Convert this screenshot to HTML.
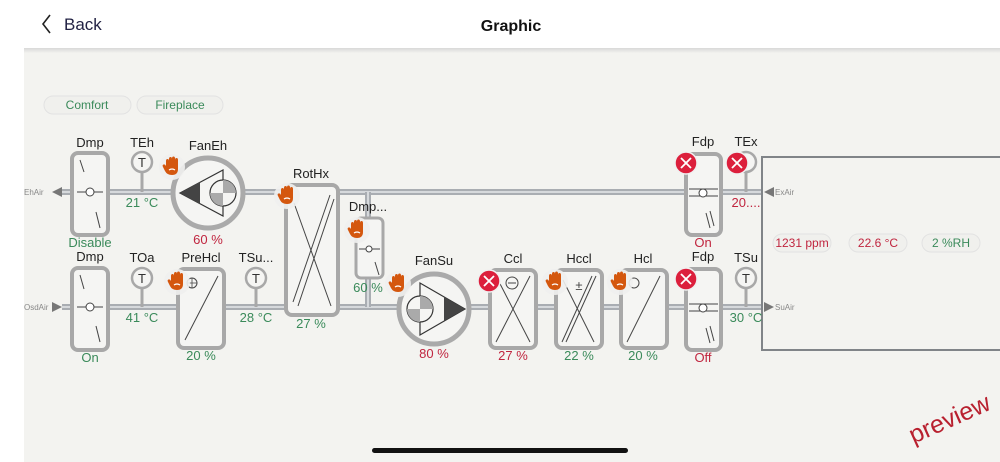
<!DOCTYPE html>
<html><head><meta charset="utf-8"><style>
html,body{margin:0;padding:0;width:1000px;height:462px;overflow:hidden;background:#fff}
svg{display:block}
text{font-family:"Liberation Sans",sans-serif}
</style></head><body>
<svg width="1000" height="462" viewBox="0 0 1000 462">
<defs>
<linearGradient id="sh" x1="0" y1="0" x2="0" y2="1"><stop offset="0" stop-color="#d8d8d8"/><stop offset="1" stop-color="#f2f2ef"/></linearGradient>
<g id="hand">
<circle cx="0" cy="0" r="13" fill="#f0f0ee" opacity="0.9"/>
<path d="M-6,-1 L-6,-6 Q-6,-8 -4.5,-8 Q-3,-8 -3,-6 L-3,-8 Q-3,-10 -1.5,-10 Q0,-10 0,-8 L0,-8.5 Q0,-10.5 1.5,-10.5 Q3,-10.5 3,-8.5 L3,-7 Q3,-9 4.5,-9 Q6,-9 6,-7 L6,2 Q6,8 0,8 Q-5,8 -7,4 L-9,0 Q-10,-2 -8.5,-2.5 Q-7,-3 -6,-1 Z" fill="#d4570e"/>
<path d="M-3,3 Q0,1 3,3" stroke="#fff" stroke-width="1.3" fill="none"/>
</g>
<g id="err"><circle r="11" fill="#dc1f3c" stroke="#f0f0f0" stroke-width="1.5"/><path d="M-5,-5 L5,5 M5,-5 L-5,5" stroke="#fff" stroke-width="1.8"/></g>
</defs>
<rect x="0" y="0" width="1000" height="48" fill="#fff"/>
<path d="M50,15 L43,24 L50,33" stroke="#222" stroke-width="1.6" fill="none"/>
<text x="64" y="30" font-size="17" fill="#222244">Back</text>
<text x="511" y="31" font-size="16" font-weight="bold" fill="#111" text-anchor="middle">Graphic</text>
<rect x="24" y="48" width="976" height="414" fill="#f3f3f0"/>
<rect x="24" y="48" width="976" height="5" fill="url(#sh)"/>
<rect x="44" y="96" width="87" height="18" rx="9" fill="#f0f0ed" stroke="#e2e2e2"/>
<text x="87" y="109" font-size="12" fill="#3a8a5a" text-anchor="middle">Comfort</text>
<rect x="137" y="96" width="86" height="18" rx="9" fill="#f0f0ed" stroke="#e2e2e2"/>
<text x="180" y="109" font-size="12" fill="#3a8a5a" text-anchor="middle">Fireplace</text>
<g stroke-linecap="butt">
<line x1="62" y1="192" x2="762" y2="192" stroke="#a9adb2" stroke-width="6"/>
<line x1="62" y1="192" x2="762" y2="192" stroke="#d6d9dc" stroke-width="2"/>
<line x1="62" y1="307" x2="762" y2="307" stroke="#a9adb2" stroke-width="6"/>
<line x1="62" y1="307" x2="762" y2="307" stroke="#d6d9dc" stroke-width="2"/>
<line x1="368" y1="192" x2="368" y2="307" stroke="#a9adb2" stroke-width="6"/>
<line x1="368" y1="192" x2="368" y2="307" stroke="#d6d9dc" stroke-width="2"/>
</g>
<text x="24" y="195" font-size="8" fill="#888">EhAir</text>
<polygon points="52,192 62,187 62,197" fill="#777"/>
<text x="24" y="310" font-size="8" fill="#888">OsdAir</text>
<polygon points="62,307 52,302 52,312" fill="#777"/>
<rect x="762" y="157" width="250" height="193" fill="#f3f3f0" stroke="#808488" stroke-width="2"/>
<polygon points="764,192 774,187 774,197" fill="#777"/>
<text x="775" y="195" font-size="8" fill="#888">ExAir</text>
<polygon points="774,307 764,302 764,312" fill="#777"/>
<text x="775" y="310" font-size="8" fill="#888">SuAir</text>
<rect x="773" y="234" width="58" height="18" rx="9" fill="#f0f0ed" stroke="#e2e2e2"/>
<text x="802" y="247" font-size="12" fill="#c0253f" text-anchor="middle">1231 ppm</text>
<rect x="849" y="234" width="58" height="18" rx="9" fill="#f0f0ed" stroke="#e2e2e2"/>
<text x="878" y="247" font-size="12" fill="#c0253f" text-anchor="middle">22.6 °C</text>
<rect x="922" y="234" width="58" height="18" rx="9" fill="#f0f0ed" stroke="#e2e2e2"/>
<text x="951" y="247" font-size="12" fill="#3a8a5a" text-anchor="middle">2 %RH</text>

<g font-size="13" text-anchor="middle">
<rect x="72" y="153" width="36" height="82" rx="6" fill="#f5f5f3" stroke="#a8a8a8" stroke-width="4"/>
<line x1="77" y1="192" x2="103" y2="192" stroke="#444"/><circle cx="90" cy="192" r="4" fill="#fff" stroke="#444"/>
<line x1="80" y1="160" x2="84" y2="172" stroke="#444"/><line x1="96" y1="212" x2="100" y2="228" stroke="#444"/>
<text x="90" y="147" fill="#222">Dmp</text><text x="90" y="247" fill="#3a8a5a">Disable</text>
<rect x="72" y="268" width="36" height="82" rx="6" fill="#f5f5f3" stroke="#a8a8a8" stroke-width="4"/>
<line x1="77" y1="307" x2="103" y2="307" stroke="#444"/><circle cx="90" cy="307" r="4" fill="#fff" stroke="#444"/>
<line x1="80" y1="275" x2="84" y2="289" stroke="#444"/><line x1="96" y1="326" x2="100" y2="342" stroke="#444"/>
<text x="90" y="261" fill="#222">Dmp</text><text x="90" y="362" fill="#3a8a5a">On</text>
<line x1="142" y1="172" x2="142" y2="192" stroke="#a8a8a8" stroke-width="3"/>
<circle cx="142" cy="162" r="10" fill="#f5f5f3" stroke="#a8a8a8" stroke-width="2.5"/>
<text x="142" y="167" font-size="13" fill="#333">T</text>
<text x="142" y="147" fill="#222">TEh</text><text x="142" y="207" fill="#3a8a5a">21 °C</text>
<circle cx="208" cy="193" r="35" fill="#f5f5f3" stroke="#aaa" stroke-width="5"/>
<polygon points="180,193 223,170 223,216" fill="#f5f5f3" stroke="#333" stroke-width="1.2"/>
<polygon points="180,193 200,182 200,204" fill="#444"/>
<circle cx="223" cy="193" r="13" fill="#f5f5f3" stroke="#333" stroke-width="1.2"/>
<path d="M223,193 L236,193 A13,13 0 0,0 223,180 Z M223,193 L210,193 A13,13 0 0,0 223,206 Z" fill="#aaa"/>
<text x="208" y="150" fill="#222">FanEh</text><text x="208" y="244" fill="#c0253f">60 %</text>
<use href="#hand" x="172" y="167"/>
<rect x="286" y="185" width="52" height="130" rx="6" fill="#f5f5f3" stroke="#a8a8a8" stroke-width="4"/>
<line x1="293" y1="302" x2="330" y2="195" stroke="#444"/><line x1="298" y1="306" x2="334" y2="199" stroke="#444"/><line x1="294" y1="203" x2="331" y2="306" stroke="#444"/>
<text x="311" y="178" fill="#222">RotHx</text><text x="311" y="328" fill="#3a8a5a">27 %</text>
<use href="#hand" x="287" y="196"/>
<rect x="356" y="218" width="27" height="60" rx="5" fill="#f5f5f3" stroke="#a8a8a8" stroke-width="3"/>
<line x1="359" y1="249" x2="380" y2="249" stroke="#444"/><circle cx="369" cy="249" r="3" fill="#fff" stroke="#444"/>
<line x1="375" y1="262" x2="379" y2="275" stroke="#444"/>
<text x="368" y="211" fill="#222">Dmp...</text><text x="368" y="292" fill="#3a8a5a">60 %</text>
<use href="#hand" x="357" y="230"/>
<line x1="142" y1="288" x2="142" y2="307" stroke="#a8a8a8" stroke-width="3"/>
<circle cx="142" cy="278" r="10" fill="#f5f5f3" stroke="#a8a8a8" stroke-width="2.5"/>
<text x="142" y="283" font-size="13" fill="#333">T</text>
<text x="142" y="262" fill="#222">TOa</text><text x="142" y="322" fill="#3a8a5a">41 °C</text>
<rect x="178" y="269" width="46" height="79" rx="6" fill="#f5f5f3" stroke="#a8a8a8" stroke-width="4"/>
<line x1="185" y1="340" x2="218" y2="276" stroke="#444"/>
<circle cx="192" cy="283" r="5" fill="none" stroke="#444"/><path d="M187,283 h10 M192,278 v10" stroke="#444" stroke-width=".8"/>
<text x="201" y="262" fill="#222">PreHcl</text><text x="201" y="360" fill="#3a8a5a">20 %</text>
<use href="#hand" x="177" y="282"/>
<line x1="256" y1="288" x2="256" y2="307" stroke="#a8a8a8" stroke-width="3"/>
<circle cx="256" cy="278" r="10" fill="#f5f5f3" stroke="#a8a8a8" stroke-width="2.5"/>
<text x="256" y="283" font-size="13" fill="#333">T</text>
<text x="256" y="262" fill="#222">TSu...</text><text x="256" y="322" fill="#3a8a5a">28 °C</text>
<circle cx="434" cy="309" r="35" fill="#f5f5f3" stroke="#aaa" stroke-width="5"/>
<polygon points="465,309 420,283 420,335" fill="#f5f5f3" stroke="#333" stroke-width="1.2"/>
<polygon points="465,309 444,297 444,321" fill="#444"/>
<circle cx="420" cy="309" r="13" fill="#f5f5f3" stroke="#333" stroke-width="1.2"/>
<path d="M420,309 L433,309 A13,13 0 0,0 420,296 Z M420,309 L407,309 A13,13 0 0,0 420,322 Z" fill="#aaa"/>
<text x="434" y="265" fill="#222">FanSu</text><text x="434" y="358" fill="#c0253f">80 %</text>
<use href="#hand" x="398" y="284"/>
<rect x="490" y="270" width="46" height="78" rx="6" fill="#f5f5f3" stroke="#a8a8a8" stroke-width="4"/>
<line x1="496" y1="342" x2="530" y2="276" stroke="#444"/><line x1="496" y1="276" x2="530" y2="342" stroke="#444"/>
<circle cx="512" cy="283" r="6" fill="#f5f5f3" stroke="#444"/><line x1="508" y1="283" x2="516" y2="283" stroke="#444"/>
<text x="513" y="263" fill="#222">Ccl</text><text x="513" y="360" fill="#c0253f">27 %</text>
<use href="#err" x="489" y="281"/>
<rect x="556" y="270" width="46" height="78" rx="6" fill="#f5f5f3" stroke="#a8a8a8" stroke-width="4"/>
<line x1="562" y1="342" x2="592" y2="276" stroke="#444"/><line x1="566" y1="342" x2="596" y2="276" stroke="#444"/><line x1="563" y1="280" x2="594" y2="342" stroke="#444"/>
<text x="579" y="290" font-size="13" fill="#444">±</text>
<text x="579" y="263" fill="#222">Hccl</text><text x="579" y="360" fill="#3a8a5a">22 %</text>
<use href="#hand" x="555" y="282"/>
<rect x="621" y="270" width="46" height="78" rx="6" fill="#f5f5f3" stroke="#a8a8a8" stroke-width="4"/>
<line x1="627" y1="342" x2="660" y2="276" stroke="#444"/>
<circle cx="634" cy="283" r="5" fill="none" stroke="#444"/>
<text x="643" y="263" fill="#222">Hcl</text><text x="643" y="360" fill="#3a8a5a">20 %</text>
<use href="#hand" x="620" y="282"/>
<rect x="686" y="154" width="35" height="81" rx="6" fill="#f5f5f3" stroke="#a8a8a8" stroke-width="4"/>
<line x1="689" y1="189" x2="718" y2="189" stroke="#444"/><line x1="689" y1="196" x2="718" y2="196" stroke="#444"/>
<circle cx="703" cy="193" r="4" fill="#fff" stroke="#444"/>
<line x1="706" y1="213" x2="710" y2="228" stroke="#444"/><line x1="710" y1="211" x2="714" y2="226" stroke="#444"/>
<text x="703" y="146" fill="#222">Fdp</text><text x="703" y="247" fill="#c0253f">On</text>
<use href="#err" x="686" y="163"/>
<line x1="746" y1="172" x2="746" y2="192" stroke="#a8a8a8" stroke-width="3"/>
<circle cx="746" cy="162" r="10" fill="#f5f5f3" stroke="#a8a8a8" stroke-width="2.5"/>
<use href="#err" x="737" y="163"/>
<text x="746" y="146" fill="#222">TEx</text><text x="746" y="207" fill="#c0253f">20....</text>
<rect x="686" y="269" width="35" height="81" rx="6" fill="#f5f5f3" stroke="#a8a8a8" stroke-width="4"/>
<line x1="689" y1="304" x2="718" y2="304" stroke="#444"/><line x1="689" y1="311" x2="718" y2="311" stroke="#444"/>
<circle cx="703" cy="308" r="4" fill="#fff" stroke="#444"/>
<line x1="706" y1="328" x2="710" y2="343" stroke="#444"/><line x1="710" y1="326" x2="714" y2="341" stroke="#444"/>
<text x="703" y="261" fill="#222">Fdp</text><text x="703" y="362" fill="#c0253f">Off</text>
<use href="#err" x="686" y="279"/>
<line x1="746" y1="288" x2="746" y2="307" stroke="#a8a8a8" stroke-width="3"/>
<circle cx="746" cy="278" r="10" fill="#f5f5f3" stroke="#a8a8a8" stroke-width="2.5"/>
<text x="746" y="283" font-size="13" fill="#333">T</text>
<text x="746" y="262" fill="#222">TSu</text><text x="746" y="322" fill="#3a8a5a">30 °C</text>
</g>
<text x="950" y="427" font-size="25" fill="#b8202f" text-anchor="middle" transform="rotate(-24 950 420)">preview</text>
<rect x="372" y="448" width="256" height="5" rx="2.5" fill="#111"/>
</svg>
</body></html>
